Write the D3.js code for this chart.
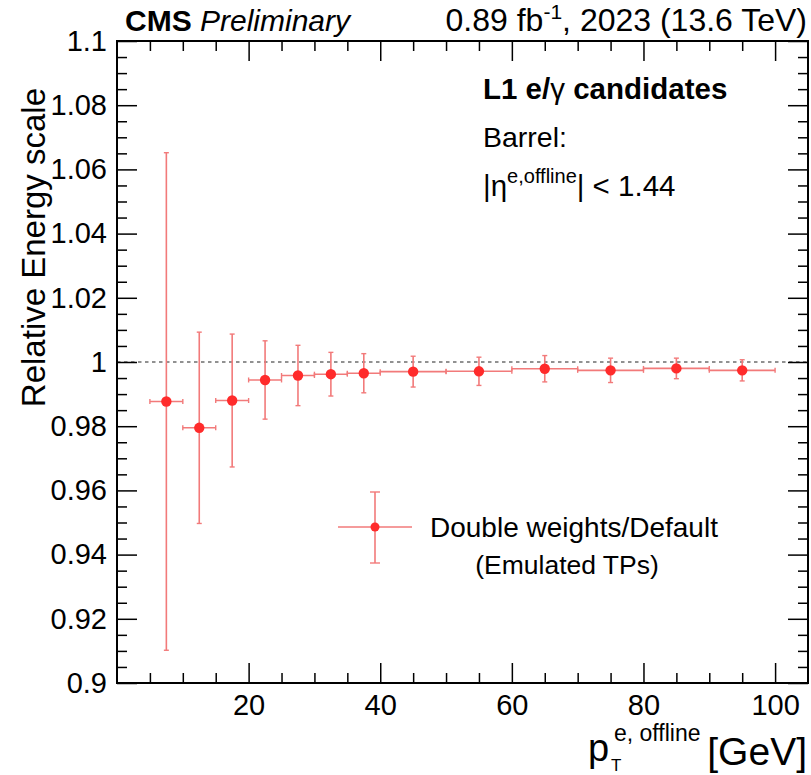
<!DOCTYPE html>
<html>
<head>
<meta charset="utf-8">
<script src="https://cdn.jsdelivr.net/npm/d3@7"></script>
<style>
  html, body { margin: 0; padding: 0; background: #fff; }
  svg { display: block; }
  text { font-family: "Liberation Sans", Arial, Helvetica, sans-serif; fill: #000; }
</style>
</head>
<body>
<svg id="chart" width="811" height="775"></svg>
<script>
// ---- data ----
const binCenters = [7.5, 12.5, 17.5, 22.5, 27.5, 32.5, 37.5, 45, 55, 65, 75, 85, 95];
const binLow     = [5, 10, 15, 20, 25, 30, 35, 40, 50, 60, 70, 80, 90];
const binHigh    = [10, 15, 20, 25, 30, 35, 40, 50, 60, 70, 80, 90, 100];
const scaleValues = [0.9877, 0.9795, 0.9880, 0.9944, 0.9958, 0.9962, 0.9965, 0.9970, 0.9971, 0.9979, 0.9974, 0.9980, 0.9974];
const scaleErrors = [0.0775, 0.0298, 0.0207, 0.0122, 0.0094, 0.0068, 0.0061, 0.0048, 0.0044, 0.0041, 0.0038, 0.0032, 0.0033];
const xMajorTicks = [20, 40, 60, 80, 100];
const yMajorTicks = [0.9, 0.92, 0.94, 0.96, 0.98, 1.0, 1.02, 1.04, 1.06, 1.08, 1.1];
const yTickLabels = ["0.9", "0.92", "0.94", "0.96", "0.98", "1", "1.02", "1.04", "1.06", "1.08", "1.1"];
const legendLabel = "Double weights/Default";
const legendSub = "(Emulated TPs)";

// ---- layout ----
const L = 117, R = 808, T = 41, B = 683;
const svg = d3.select("#chart");
const x = d3.scaleLinear().domain([0, 105]).range([L, R]);
const y = d3.scaleLinear().domain([0.9, 1.1]).range([B, T]);

const markerColor = "#ff2b2b";
const barColor = "#f27a7a";

// dashed line at 1
svg.append("line")
  .attr("x1", L).attr("x2", R)
  .attr("y1", y(1)).attr("y2", y(1))
  .attr("stroke", "#6e6e6e").attr("stroke-width", 1.6)
  .attr("stroke-dasharray", "3.5,3.5");

// axes
const fontTick = 29;
const xMinor = d3.range(5, 105, 5).filter(v => xMajorTicks.indexOf(v) < 0);
const yMinor = d3.range(0, 41).map(i => +(0.9 + i * 0.005).toFixed(3)).filter(v => !yMajorTicks.some(m => Math.abs(m - v) < 1e-6));

function styleAxis(g) {
  g.select(".domain").remove();
  g.selectAll(".tick line").attr("stroke", "#000").attr("stroke-width", 1.5);
}

// bottom
svg.append("g").attr("transform", `translate(0,${B})`)
  .call(d3.axisBottom(x).tickValues(xMajorTicks).tickSize(-20).tickFormat(d3.format("d")).tickPadding(26))
  .call(styleAxis)
  .call(g => g.selectAll("text").attr("font-size", fontTick).attr("font-family", "Liberation Sans, Arial, sans-serif").attr("fill", "#000").attr("dy", "0.2em"));
svg.append("g").attr("transform", `translate(0,${B})`)
  .call(d3.axisBottom(x).tickValues(xMinor).tickSize(-10).tickFormat(""))
  .call(styleAxis);
// top
svg.append("g").attr("transform", `translate(0,${T})`)
  .call(d3.axisTop(x).tickValues(xMajorTicks).tickSize(-20).tickFormat(""))
  .call(styleAxis);
svg.append("g").attr("transform", `translate(0,${T})`)
  .call(d3.axisTop(x).tickValues(xMinor).tickSize(-10).tickFormat(""))
  .call(styleAxis);
// left
svg.append("g").attr("transform", `translate(${L},0)`)
  .call(d3.axisLeft(y).tickValues(yMajorTicks).tickSize(-20).tickPadding(10)
    .tickFormat((d, i) => yTickLabels[i]))
  .call(styleAxis)
  .call(g => g.selectAll("text").attr("font-size", fontTick).attr("font-family", "Liberation Sans, Arial, sans-serif").attr("fill", "#000"));
svg.append("g").attr("transform", `translate(${L},0)`)
  .call(d3.axisLeft(y).tickValues(yMinor).tickSize(-10).tickFormat(""))
  .call(styleAxis);
// right
svg.append("g").attr("transform", `translate(${R},0)`)
  .call(d3.axisRight(y).tickValues(yMajorTicks).tickSize(-20).tickFormat(""))
  .call(styleAxis);
svg.append("g").attr("transform", `translate(${R},0)`)
  .call(d3.axisRight(y).tickValues(yMinor).tickSize(-10).tickFormat(""))
  .call(styleAxis);

// frame
svg.append("rect").attr("x", L).attr("y", T).attr("width", R - L).attr("height", B - T)
  .attr("fill", "none").attr("stroke", "#000").attr("stroke-width", 2);

// data
const data = binCenters.map((c, i) => ({ c, lo: binLow[i], hi: binHigh[i], v: scaleValues[i], e: scaleErrors[i] }));
const pts = svg.append("g");
const cap = 2.5;
pts.selectAll(".hbar").data(data).enter().append("line")
  .attr("x1", d => x(d.lo)).attr("x2", d => x(d.hi))
  .attr("y1", d => y(d.v)).attr("y2", d => y(d.v))
  .attr("stroke", barColor).attr("stroke-width", 1.6);
pts.selectAll(".hcapL").data(data).enter().append("line")
  .attr("x1", d => x(d.lo)).attr("x2", d => x(d.lo))
  .attr("y1", d => y(d.v) - cap).attr("y2", d => y(d.v) + cap)
  .attr("stroke", barColor).attr("stroke-width", 1.4);
pts.selectAll(".hcapR").data(data).enter().append("line")
  .attr("x1", d => x(d.hi)).attr("x2", d => x(d.hi))
  .attr("y1", d => y(d.v) - cap).attr("y2", d => y(d.v) + cap)
  .attr("stroke", barColor).attr("stroke-width", 1.4);
pts.selectAll(".vbar").data(data).enter().append("line")
  .attr("x1", d => x(d.c)).attr("x2", d => x(d.c))
  .attr("y1", d => y(d.v - d.e)).attr("y2", d => y(d.v + d.e))
  .attr("stroke", barColor).attr("stroke-width", 1.6);
pts.selectAll(".vcapT").data(data).enter().append("line")
  .attr("x1", d => x(d.c) - cap).attr("x2", d => x(d.c) + cap)
  .attr("y1", d => y(d.v + d.e)).attr("y2", d => y(d.v + d.e))
  .attr("stroke", barColor).attr("stroke-width", 1.4);
pts.selectAll(".vcapB").data(data).enter().append("line")
  .attr("x1", d => x(d.c) - cap).attr("x2", d => x(d.c) + cap)
  .attr("y1", d => y(d.v - d.e)).attr("y2", d => y(d.v - d.e))
  .attr("stroke", barColor).attr("stroke-width", 1.4);
pts.selectAll("circle").data(data).enter().append("circle")
  .attr("cx", d => x(d.c)).attr("cy", d => y(d.v)).attr("r", 5.2)
  .attr("fill", markerColor);

// legend
const lg = svg.append("g");
const lx = 375, ly = 527;
lg.append("line").attr("x1", lx - 37).attr("x2", lx + 37).attr("y1", ly).attr("y2", ly).attr("stroke", barColor).attr("stroke-width", 1.6);
lg.append("line").attr("x1", lx).attr("x2", lx).attr("y1", ly - 35).attr("y2", ly + 36).attr("stroke", barColor).attr("stroke-width", 1.6);
lg.append("line").attr("x1", lx - 5).attr("x2", lx + 5).attr("y1", ly - 35).attr("y2", ly - 35).attr("stroke", barColor).attr("stroke-width", 1.4);
lg.append("line").attr("x1", lx - 5).attr("x2", lx + 5).attr("y1", ly + 36).attr("y2", ly + 36).attr("stroke", barColor).attr("stroke-width", 1.4);
lg.append("circle").attr("cx", lx).attr("cy", ly).attr("r", 4.5).attr("fill", markerColor);
lg.append("text").attr("x", 430).attr("y", ly + 10).attr("font-size", 28).text(legendLabel);
lg.append("text").attr("x", 567).attr("y", ly + 47).attr("text-anchor", "middle").attr("font-size", 26.5).text(legendSub);

// header texts
const hdr = svg.append("text").attr("x", 125).attr("y", 31).attr("font-size", 30);
hdr.append("tspan").attr("font-weight", "bold").text("CMS");
hdr.append("tspan").attr("font-style", "italic").text(" Preliminary");

const lumi = svg.append("text").attr("x", 807).attr("y", 31).attr("font-size", 32).attr("text-anchor", "end");
lumi.append("tspan").text("0.89 fb");
lumi.append("tspan").attr("font-size", 21).attr("dy", -12).text("-1");
lumi.append("tspan").attr("dy", 12).text(", 2023 (13.6 TeV)");

// in-plot labels
const t1 = svg.append("text").attr("x", 483).attr("y", 99).attr("font-size", 29.5).attr("font-weight", "bold");
t1.append("tspan").text("L1 e/");
t1.append("tspan").attr("font-weight", "normal").text("γ");
t1.append("tspan").text(" candidates");
svg.append("text").attr("x", 483).attr("y", 147).attr("font-size", 28.5).text("Barrel:");
const t3 = svg.append("text").attr("x", 483).attr("y", 196).attr("font-size", 29.5);
t3.append("tspan").text("|η");
t3.append("tspan").attr("font-size", 20).attr("dy", -13).text("e,offline");
t3.append("tspan").attr("dy", 13).text("| < 1.44");

// axis titles
svg.append("text")
  .attr("transform", "translate(45,88) rotate(-90)")
  .attr("text-anchor", "end").attr("font-size", 33)
  .text("Relative Energy scale");

svg.append("text").attr("x", 807).attr("y", 765).attr("text-anchor", "end").attr("font-size", 39).text("[GeV]");
svg.append("text").attr("x", 588).attr("y", 761).attr("font-size", 38).text("p");
svg.append("text").attr("x", 611).attr("y", 771).attr("font-size", 17).text("T");
svg.append("text").attr("x", 614).attr("y", 741).attr("font-size", 23).text("e, offline");
</script>
</body>
</html>
